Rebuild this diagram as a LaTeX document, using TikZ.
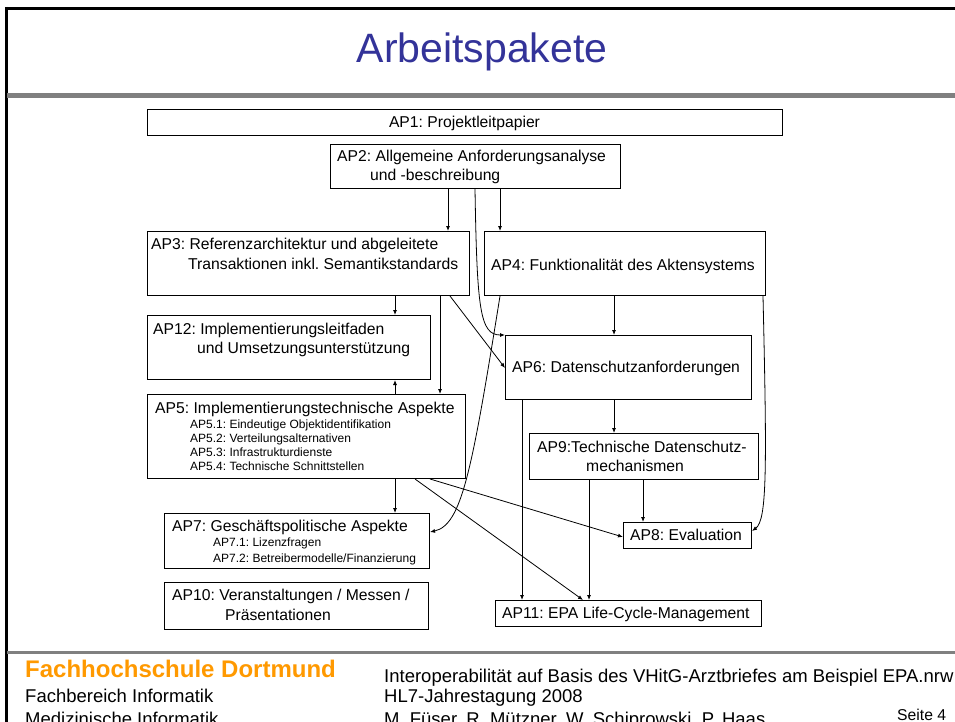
\documentclass[tikz,border=0pt]{standalone}
\usepackage{fontspec}
\setmainfont{Liberation Sans}
\usetikzlibrary{arrows.meta}
\definecolor{titleblue}{HTML}{333399}
\definecolor{fhorange}{HTML}{FF9900}
\definecolor{bargray}{HTML}{808080}
\frenchspacing
\begin{document}
\begin{tikzpicture}[x=1pt,y=-1pt,
  box/.style={draw=black, line width=1pt, inner sep=0pt, anchor=north west},
  lbl/.style={anchor=base west, inner sep=0pt, font=\fontsize{15.7}{18}\selectfont},
  sub/.style={anchor=base west, inner sep=0pt, font=\fontsize{12}{14}\selectfont},
  foot/.style={anchor=base west, inner sep=0pt},
  arr/.style={-{Latex[length=5pt,width=4pt]}, line width=0.8pt}]
\useasboundingbox (0,0) rectangle (955,722);
% frame
\draw[line width=3pt] (5,8.5) -- (955,8.5);
\draw[line width=2.2pt] (6.5,7) -- (6.5,722);
\fill[bargray] (7,93) rectangle (955,98);
\fill[bargray] (7,651) rectangle (955,654);
% title
\node[anchor=base, inner sep=0pt, text=titleblue, font=\fontsize{41}{45}\selectfont] (title) at (482,63) {Arbeitspakete};
% boxes
\node[box, minimum width=635, minimum height=26] (ap1) at (147,109) {};
\node[box, minimum width=290, minimum height=44] (ap2) at (330,144) {};
\node[box, minimum width=322, minimum height=64] (ap3) at (147,231) {};
\node[box, minimum width=281, minimum height=64] (ap4) at (484,231) {};
\node[box, minimum width=283, minimum height=64] (ap12) at (147,315) {};
\node[box, minimum width=246, minimum height=64] (ap6) at (505,335) {};
\node[box, minimum width=318, minimum height=84] (ap5) at (147,394) {};
\node[box, minimum width=229, minimum height=46] (ap9) at (529,433) {};
\node[box, minimum width=265, minimum height=55] (ap7) at (164,513) {};
\node[box, minimum width=128, minimum height=26] (ap8) at (623,522) {};
\node[box, minimum width=264, minimum height=47] (ap10) at (164,582) {};
\node[box, minimum width=266, minimum height=26] (ap11) at (495,600) {};
% texts
\node[lbl, anchor=base] (t1) at (464.5,127.5) {AP1: Projektleitpapier};
\node[lbl] (t2a) at (337,162) {AP2: Allgemeine Anforderungsanalyse};
\node[lbl] (t2b) at (370,181) {und -beschreibung};
\node[lbl] (t3a) at (151,249.5) {AP3: Referenzarchitektur und abgeleitete};
\node[lbl] (t3b) at (188,269) {Transaktionen inkl. Semantikstandards};
\node[lbl] (t4) at (491,270.5) {AP4: Funktionalität des Aktensystems};
\node[lbl] (t12a) at (153,334) {AP12: Implementierungsleitfaden};
\node[lbl] (t12b) at (197,353.5) {und Umsetzungsunterstützung};
\node[lbl] (t6) at (512,372.5) {AP6: Datenschutzanforderungen};
\node[lbl] (t5) at (155,413.5) {AP5: Implementierungstechnische Aspekte};
\node[sub] (t51) at (190,428) {AP5.1: Eindeutige Objektidentifikation};
\node[sub] (t52) at (190,442) {AP5.2: Verteilungsalternativen};
\node[sub] (t53) at (190,456) {AP5.3: Infrastrukturdienste};
\node[sub] (t54) at (190,470) {AP5.4: Technische Schnittstellen};
\node[lbl] (t9a) at (537,452.5) {AP9:Technische Datenschutz-};
\node[lbl] (t9b) at (586,471) {mechanismen};
\node[lbl] (t7) at (172,531.5) {AP7: Geschäftspolitische Aspekte};
\node[sub] (t71) at (213,546) {AP7.1: Lizenzfragen};
\node[sub] (t72) at (213,562) {AP7.2: Betreibermodelle/Finanzierung};
\node[lbl] (t8) at (630,540.5) {AP8: Evaluation};
\node[lbl] (t10a) at (172,600.5) {AP10: Veranstaltungen / Messen /};
\node[lbl] (t10b) at (225,620) {Präsentationen};
\node[lbl] (t11) at (502,618.5) {AP11: EPA Life-Cycle-Management};
% connectors
\draw[arr] (ap2.south -| 448,0) -- (ap3.north -| 448,0);
\draw[arr] (ap2.south -| 500,0) -- (ap4.north -| 500,0);
\draw[arr] (ap2.south -| 475,0) .. controls (477,310) and (480,335) .. (ap6.north west);
\draw[arr] (ap4.south -| 500,0) .. controls (472,470) and (462,525) .. (ap7.east |- 0,532);
\draw[arr] (ap3.south -| 395,0) -- (ap12.north -| 395,0);
\draw[arr] (ap3.south -| 440,0) -- (ap5.north -| 440,0);
\draw[arr] (ap3.south -| 450,0) -- (ap6.west |- 0,368);
\draw[arr] (ap5.north -| 395,0) -- (ap12.south -| 395,0);
\draw[arr] (ap4.south -| 614,0) -- (ap6.north -| 614,0);
\draw[arr] (ap4.south -| 763,0) .. controls (767,470) and (767,520) .. (ap8.east |- 0,531);
\draw[arr] (ap6.south -| 614,0) -- (ap9.north -| 614,0);
\draw[arr] (ap6.south -| 522,0) -- (ap11.north -| 522,0);
\draw[arr] (ap9.south -| 589,0) -- (ap11.north -| 589,0);
\draw[arr] (ap9.south -| 643,0) -- (ap8.north -| 643,0);
\draw[arr] (ap5.south -| 395,0) -- (ap7.north -| 395,0);
\draw[arr] (ap5.south -| 415,0) -- (ap11.north -| 583,0);
\draw[arr] (ap5.south -| 430,0) -- (ap8.west |- 0,537);
% footer
\node[foot, text=fhorange, font=\bfseries\fontsize{24}{27}\selectfont] (fh) at (25,677) {Fachhochschule Dortmund};
\node[foot, font=\fontsize{18.5}{21}\selectfont] (fb) at (25,702) {Fachbereich Informatik};
\node[foot, font=\fontsize{18.5}{21}\selectfont] (mi) at (25,725) {Medizinische Informatik};
\node[foot, font=\fontsize{18.5}{21}\selectfont] (r1) at (384,682) {Interoperabilität auf Basis des VHitG-Arztbriefes am Beispiel EPA.nrw};
\node[foot, font=\fontsize{18.5}{21}\selectfont] (r2) at (384,702) {HL7-Jahrestagung 2008};
\node[foot, font=\fontsize{18.5}{21}\selectfont] (r3) at (384,725) {M. Füser, R. Mützner, W. Schiprowski, P. Haas};
\node[foot, font=\fontsize{15.7}{18}\selectfont] (seite) at (897,720) {Seite 4};
\end{tikzpicture}
\end{document}
